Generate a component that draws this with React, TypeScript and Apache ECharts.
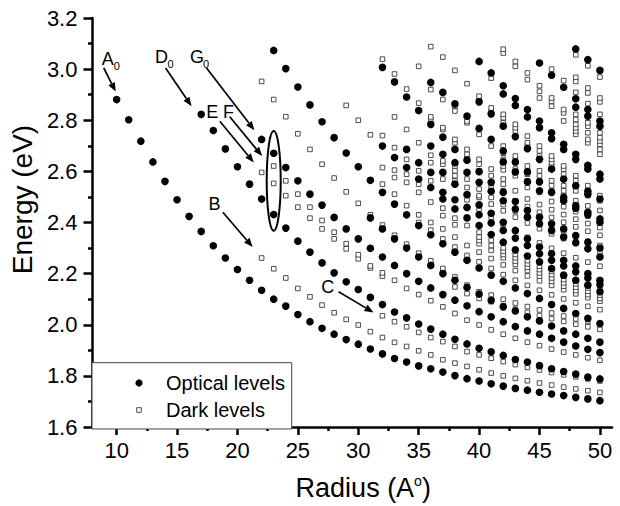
import React, { useEffect, useRef } from "react";
import * as echarts from "echarts";

const radii = [10, 11, 12, 13, 14, 15, 16, 17, 18, 19, 20, 21, 22, 23, 24, 25, 26, 27, 28, 29, 30, 31, 32, 33, 34, 35, 36, 37, 38, 39, 40, 41, 42, 43, 44, 45, 46, 47, 48, 49, 50];

// Optical levels (filled circles), one list per radius
const opticalLevels: number[][] = [
  [2.881],
  [2.802],
  [2.718],
  [2.637],
  [2.561],
  [2.489],
  [2.424],
  [2.365, 2.823],
  [2.309, 2.76],
  [2.261, 2.688],
  [2.216, 2.618],
  [2.174, 2.55],
  [2.135, 2.492, 2.725],
  [2.1, 2.431, 2.671, 3.073],
  [2.073, 2.378, 2.615, 3.002],
  [2.04, 2.327, 2.563, 2.93],
  [2.012, 2.284, 2.511, 2.86],
  [1.986, 2.242, 2.468, 2.794],
  [1.963, 2.203, 2.42, 2.732],
  [1.942, 2.168, 2.375, 2.672],
  [1.924, 2.138, 2.336, 2.618],
  [1.905, 2.107, 2.299, 2.418, 2.565],
  [1.886, 2.079, 2.265, 2.375, 2.518, 2.699, 3.007],
  [1.868, 2.05, 2.232, 2.336, 2.472, 2.654, 2.95],
  [1.854, 2.027, 2.2, 2.3, 2.43, 2.615, 2.686, 2.891],
  [1.839, 2.003, 2.17, 2.265, 2.388, 2.57, 2.634, 2.838],
  [1.828, 1.983, 2.144, 2.232, 2.352, 2.537, 2.596, 2.699, 2.784, 2.948],
  [1.815, 1.963, 2.118, 2.2, 2.317, 2.492, 2.518, 2.596, 2.667, 2.734, 2.909],
  [1.801, 1.943, 2.096, 2.174, 2.284, 2.453, 2.489, 2.55, 2.634, 2.686, 2.864],
  [1.789, 1.925, 2.074, 2.146, 2.252, 2.418, 2.459, 2.509, 2.596, 2.644, 2.816],
  [1.78, 1.908, 2.051, 2.12, 2.222, 2.388, 2.43, 2.469, 2.557, 2.599, 2.768, 2.872, 3.03],
  [1.769, 1.894, 2.031, 2.096, 2.194, 2.353, 2.398, 2.436, 2.522, 2.557, 2.725, 2.825, 2.985],
  [1.76, 1.88, 2.012, 2.07, 2.17, 2.323, 2.369, 2.401, 2.485, 2.518, 2.637, 2.68, 2.777, 2.903, 2.935],
  [1.751, 1.864, 1.993, 2.054, 2.144, 2.293, 2.339, 2.369, 2.453, 2.482, 2.598, 2.637, 2.736, 2.858, 2.885],
  [1.744, 1.854, 1.976, 2.031, 2.122, 2.269, 2.31, 2.336, 2.421, 2.447, 2.559, 2.598, 2.689, 2.813, 2.842],
  [1.736, 1.84, 1.963, 2.015, 2.103, 2.246, 2.278, 2.304, 2.395, 2.421, 2.524, 2.559, 2.647, 2.771, 2.797, 3.024],
  [1.729, 1.828, 1.947, 1.995, 2.079, 2.22, 2.252, 2.278, 2.369, 2.395, 2.518, 2.609, 2.728, 2.751, 2.976],
  [1.723, 1.817, 1.932, 1.976, 2.064, 2.194, 2.23, 2.252, 2.343, 2.375, 2.485, 2.498, 2.57, 2.686, 2.706, 2.929],
  [1.716, 1.807, 1.917, 1.963, 2.044, 2.174, 2.207, 2.23, 2.321, 2.349, 2.456, 2.466, 2.544, 2.647, 2.667, 2.851, 2.884, 3.079],
  [1.71, 1.795, 1.904, 1.947, 2.025, 2.155, 2.183, 2.2, 2.297, 2.323, 2.43, 2.44, 2.511, 2.522, 2.609, 2.624, 2.816, 2.842, 3.037],
  [1.703, 1.788, 1.891, 1.932, 2.005, 2.129, 2.157, 2.174, 2.265, 2.3, 2.401, 2.414, 2.492, 2.57, 2.589, 2.777, 2.797, 2.995],
];

// Dark levels (open squares), one list per radius
const darkLevels: number[][] = [
  [], [], [], [], [], [], [], [], [], [], [], [],
  [2.261, 2.596, 2.952],
  [2.219, 2.553, 2.621, 2.881],
  [2.183, 2.505, 2.563, 2.814],
  [2.142, 2.46, 2.511, 2.747],
  [2.109, 2.417, 2.46, 2.686],
  [2.077, 2.375, 2.408, 2.628],
  [2.047, 2.336, 2.362, 2.574],
  [2.021, 2.297, 2.317, 2.52, 2.858],
  [1.999, 2.258, 2.274, 2.475, 2.8],
  [1.973, 2.222, 2.23, 2.43, 2.743],
  [1.95, 2.035, 2.19, 2.203, 2.39, 2.55, 2.615, 2.74, 3.039],
  [1.931, 2.012, 2.174, 2.34, 2.35, 2.511, 2.576, 2.605, 2.693, 2.813, 2.981],
  [1.915, 1.992, 2.142, 2.305, 2.315, 2.466, 2.557, 2.589, 2.647, 2.764, 2.922],
  [1.898, 1.97, 2.118, 2.27, 2.28, 2.4, 2.43, 2.518, 2.55, 2.602, 2.712, 2.867, 3.011],
  [1.882, 1.95, 2.094, 2.24, 2.25, 2.37, 2.4, 2.48, 2.563, 2.634, 2.663, 2.803, 2.813, 2.92, 3.088],
  [1.863, 1.934, 2.07, 2.207, 2.22, 2.336, 2.375, 2.427, 2.456, 2.57, 2.596, 2.628, 2.641, 2.764, 2.771, 2.881, 3.047],
  [1.85, 1.915, 2.044, 2.148, 2.187, 2.304, 2.343, 2.391, 2.417, 2.563, 2.583, 2.602, 2.621, 2.712, 2.725, 2.836, 2.855, 2.995],
  [1.837, 1.895, 2.018, 2.122, 2.155, 2.271, 2.31, 2.388, 2.489, 2.537, 2.57, 2.654, 2.667, 2.686, 2.79, 2.797, 2.943],
  [1.824, 1.882, 1.999, 2.103, 2.129, 2.246, 2.284, 2.317, 2.33, 2.343, 2.362, 2.453, 2.498, 2.505, 2.531, 2.602, 2.628, 2.647, 2.745, 2.881, 2.894],
  [1.811, 1.869, 1.98, 2.09, 2.116, 2.22, 2.259, 2.291, 2.31, 2.33, 2.421, 2.472, 2.498, 2.537, 2.583, 2.609, 2.699, 2.823, 2.836, 2.848, 2.965],
  [1.8, 1.856, 1.963, 2.075, 2.1, 2.196, 2.234, 2.262, 2.275, 2.288, 2.301, 2.392, 2.446, 2.47, 2.524, 2.55, 2.57, 2.606, 2.621, 2.647, 2.671, 2.699, 2.79, 2.81, 2.823, 3.063, 3.078],
  [1.79, 1.844, 1.947, 2.061, 2.085, 2.174, 2.212, 2.236, 2.249, 2.262, 2.275, 2.366, 2.421, 2.445, 2.485, 2.524, 2.583, 2.609, 2.634, 2.647, 2.66, 2.758, 2.771, 2.784, 3.011, 3.03],
  [1.781, 1.833, 1.932, 2.048, 2.071, 2.154, 2.191, 2.212, 2.225, 2.238, 2.251, 2.342, 2.398, 2.422, 2.462, 2.492, 2.537, 2.563, 2.589, 2.602, 2.621, 2.699, 2.712, 2.738, 2.959, 2.985],
  [1.772, 1.823, 1.918, 2.036, 2.058, 2.135, 2.172, 2.19, 2.203, 2.216, 2.229, 2.32, 2.376, 2.4, 2.44, 2.47, 2.518, 2.563, 2.583, 2.602, 2.66, 2.68, 2.699, 2.887, 2.913, 2.935],
  [1.764, 1.813, 1.905, 2.024, 2.046, 2.117, 2.154, 2.17, 2.183, 2.196, 2.209, 2.299, 2.356, 2.38, 2.42, 2.45, 2.482, 2.524, 2.544, 2.563, 2.609, 2.621, 2.634, 2.647, 2.66, 2.855, 2.874, 2.887, 3.0],
  [1.756, 1.804, 1.893, 2.013, 2.034, 2.101, 2.137, 2.151, 2.164, 2.177, 2.19, 2.28, 2.337, 2.361, 2.401, 2.431, 2.462, 2.505, 2.524, 2.544, 2.589, 2.609, 2.621, 2.797, 2.829, 2.842, 2.955],
  [1.749, 1.796, 1.882, 2.002, 2.023, 2.086, 2.121, 2.134, 2.147, 2.16, 2.173, 2.262, 2.319, 2.343, 2.383, 2.413, 2.443, 2.485, 2.524, 2.563, 2.583, 2.745, 2.758, 2.771, 2.784, 2.803, 2.823, 2.909, 2.952, 2.968, 3.056],
  [1.742, 1.788, 1.871, 1.992, 2.013, 2.072, 2.106, 2.118, 2.131, 2.144, 2.157, 2.245, 2.302, 2.326, 2.366, 2.396, 2.425, 2.465, 2.505, 2.524, 2.544, 2.712, 2.725, 2.751, 2.777, 2.79, 2.865, 2.907, 2.926, 3.013],
  [1.735, 1.78, 1.861, 1.982, 2.003, 2.059, 2.092, 2.103, 2.116, 2.129, 2.142, 2.229, 2.286, 2.31, 2.35, 2.38, 2.408, 2.447, 2.485, 2.505, 2.667, 2.686, 2.706, 2.719, 2.732, 2.751, 2.823, 2.872, 2.887, 2.969],
];

const xLabelValues = [10, 15, 20, 25, 30, 35, 40, 45, 50];
const xMinorTickValues = [12.5, 17.5, 22.5, 27.5, 32.5, 37.5, 42.5, 47.5];

// Annotation labels and arrows, in data coordinates (radius, energy)
const arrowLabels = ["A", "D", "G", "E", "F", "B", "C"];
const arrowSubscripts = ["0", "0", "0", "", "", "", ""];
const labelAt: number[][] = [[9.26, 3.04], [13.72, 3.046], [16.65, 3.046], [17.91, 2.834], [19.26, 2.834], [18.1, 2.472], [27.48, 2.148]];
const arrowFrom: number[][] = [[8.93, 3.005], [14.05, 3.004], [17.44, 3.004], [18.54, 2.796], [19.36, 2.814], [18.79, 2.44], [28.37, 2.129]];
const arrowTo: number[][] = [[9.92, 2.912], [16.2, 2.855], [21.4, 2.761], [21.35, 2.635], [22.04, 2.66], [21.26, 2.304], [31.26, 2.048]];
const ellipseCenter = [23, 2.563];
const ellipseHalfHeight = 0.195;
const ellipseHalfWidth = 0.58;

const FONT = "'Liberation Sans', Arial, Helvetica, sans-serif";

export default function App() {
  const ref = useRef<HTMLDivElement>(null);

  useEffect(() => {
    if (!ref.current) return;
    const chart = echarts.init(ref.current, null, { renderer: "svg" });

    const opticalData: number[][] = [];
    const darkData: number[][] = [];
    radii.forEach((r, i) => {
      (opticalLevels[i] || []).forEach((e) => opticalData.push([r, e]));
      (darkLevels[i] || []).forEach((e) => darkData.push([r, e]));
    });

    chart.setOption({
      animation: false,
      grid: { left: 92, right: 8, top: 18, bottom: 77 },
      xAxis: [
        {
          type: "value",
          min: 8,
          max: 51,
          name: "Radius (A{s|o})",
          nameLocation: "middle",
          nameGap: 47,
          nameTextStyle: {
            color: "#000",
            fontSize: 27,
            fontFamily: FONT,
            padding: [0, 0, 0, 22],
            rich: { s: { fontSize: 14, fontFamily: FONT, color: "#000", verticalAlign: "top", padding: [0, 0, 12, 0] } },
          },
          axisLine: { show: true, onZero: false, lineStyle: { color: "#000", width: 2.5 } },
          axisTick: { show: true, length: 8, lineStyle: { color: "#000", width: 2.5 }, customValues: xLabelValues },
          axisLabel: { show: true, customValues: xLabelValues, margin: 12, color: "#000", fontSize: 22, fontFamily: FONT },
          splitLine: { show: false },
        },
        {
          type: "value",
          min: 8,
          max: 51,
          position: "bottom",
          axisLine: { show: false },
          axisTick: { show: true, length: 4, lineStyle: { color: "#000", width: 2.5 }, customValues: xMinorTickValues },
          axisLabel: { show: false },
          splitLine: { show: false },
        },
      ],
      yAxis: {
        type: "value",
        min: 1.6,
        max: 3.2,
        interval: 0.2,
        name: "Energy (eV)",
        nameLocation: "middle",
        nameGap: 51,
        nameTextStyle: { color: "#000", fontSize: 28, fontFamily: FONT, padding: [0, 0, 0, 46] },
        axisLine: { show: true, onZero: false, lineStyle: { color: "#000", width: 2.5 } },
        axisTick: { show: true, length: 9, lineStyle: { color: "#000", width: 2.5 } },
        minorTick: { show: true, splitNumber: 2, length: 4.5, lineStyle: { color: "#000", width: 2.5 } },
        axisLabel: { margin: 15, color: "#000", fontSize: 22, fontFamily: FONT, formatter: (v: number) => v.toFixed(1) },
        splitLine: { show: false },
      },
      series: [
        {
          name: "Dark levels",
          type: "scatter",
          data: darkData,
          symbol: "rect",
          symbolSize: 4.6,
          itemStyle: { color: "#fff", borderColor: "#3a3a3a", borderWidth: 0.9, opacity: 1 },
          z: 2,
        },
        {
          name: "Optical levels",
          type: "scatter",
          data: opticalData,
          symbol: "circle",
          symbolSize: 7.6,
          itemStyle: { color: "#000", opacity: 1 },
          z: 3,
        },
      ],
    });

    const P = (p: number[]) => chart.convertToPixel({ seriesIndex: 0 }, p) as number[];
    const graphics: any[] = [];

    arrowLabels.forEach((lab, i) => {
      const [lx, ly] = P(labelAt[i]);
      const [fx, fy] = P(arrowFrom[i]);
      const [tx, ty] = P(arrowTo[i]);
      const dx = tx - fx;
      const dy = ty - fy;
      const len = Math.hypot(dx, dy);
      const ux = dx / len;
      const uy = dy / len;
      const bx = tx - ux * 9;
      const by = ty - uy * 9;
      graphics.push({
        type: "line",
        shape: { x1: fx, y1: fy, x2: bx, y2: by },
        style: { stroke: "#000", lineWidth: 1.7 },
        silent: true,
      });
      graphics.push({
        type: "polygon",
        shape: { points: [[tx, ty], [bx - uy * 3.6, by + ux * 3.6], [bx + uy * 3.6, by - ux * 3.6]] },
        style: { fill: "#000" },
        silent: true,
      });
      graphics.push({
        type: "text",
        x: lx,
        y: ly,
        style: { text: lab, fill: "#000", fontSize: 18, fontFamily: FONT, align: "center", verticalAlign: "middle" },
        silent: true,
      });
      if (arrowSubscripts[i]) {
        graphics.push({
          type: "text",
          x: lx + 9,
          y: ly + 7,
          style: { text: arrowSubscripts[i], fill: "#000", fontSize: 11, fontFamily: FONT, align: "center", verticalAlign: "middle" },
          silent: true,
        });
      }
    });

    const [ecx, ecy] = P(ellipseCenter);
    const [, etop] = P([ellipseCenter[0], ellipseCenter[1] + ellipseHalfHeight]);
    const [eright] = P([ellipseCenter[0] + ellipseHalfWidth, ellipseCenter[1]]);
    graphics.push({
      type: "ellipse",
      shape: { cx: ecx, cy: ecy, rx: Math.abs(eright - ecx), ry: Math.abs(ecy - etop) },
      style: { fill: "none", stroke: "#000", lineWidth: 2 },
      silent: true,
    });

    // legend box
    const boxLeft = 92;
    const boxTop = 362.7;
    const boxRight = 291.7;
    const boxBottom = 429;
    graphics.push({
      type: "rect",
      shape: { x: boxLeft, y: boxTop, width: boxRight - boxLeft, height: boxBottom - boxTop },
      style: { fill: "#fff", stroke: "#444", lineWidth: 1 },
      z: 10,
      silent: true,
    });
    graphics.push({
      type: "circle",
      shape: { cx: 139, cy: 383, r: 3.6 },
      style: { fill: "#000" },
      z: 11,
      silent: true,
    });
    graphics.push({
      type: "rect",
      shape: { x: 136.7, y: 407.7, width: 4.6, height: 4.6 },
      style: { fill: "#fff", stroke: "#3a3a3a", lineWidth: 0.9 },
      z: 11,
      silent: true,
    });
    graphics.push({
      type: "text",
      x: 166,
      y: 383,
      style: { text: "Optical levels", fill: "#000", fontSize: 20, fontFamily: FONT, align: "left", verticalAlign: "middle" },
      z: 11,
      silent: true,
    });
    graphics.push({
      type: "text",
      x: 166,
      y: 410,
      style: { text: "Dark levels", fill: "#000", fontSize: 20, fontFamily: FONT, align: "left", verticalAlign: "middle" },
      z: 11,
      silent: true,
    });

    chart.setOption({ graphic: graphics });

    return () => chart.dispose();
  }, []);

  return <div ref={ref} style={{ position: "absolute", left: 0, top: 0, width: 620, height: 506, background: "#fff" }} />;
}
